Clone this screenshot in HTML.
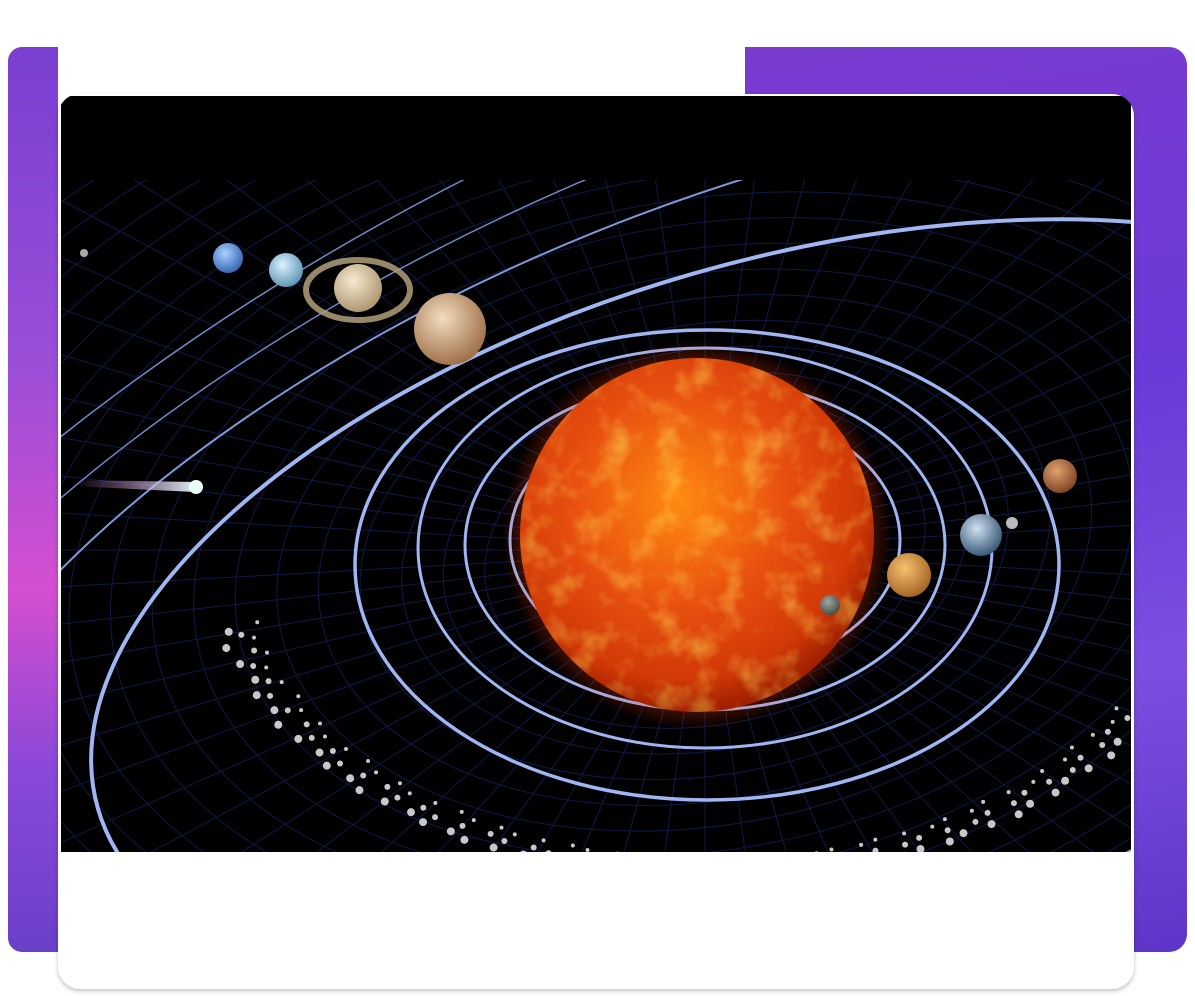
<!DOCTYPE html>
<html><head><meta charset="utf-8"><style>
html,body{margin:0;padding:0;background:#fff;overflow:hidden;width:1195px;height:996px;}
body{position:relative;font-family:"Liberation Sans",sans-serif;}
.purple{position:absolute;}
#left{left:8px;top:47px;width:50px;height:905px;border-radius:14px 0 0 14px;background:linear-gradient(180deg,#7a3fd0 0%,#9b4ed8 35%,#d44ed0 60%,#8a48d8 80%,#6a40c8 100%);}
#right{left:745px;top:47px;width:442px;height:905px;border-radius:0 18px 18px 0;background:linear-gradient(170deg,#7a3ad0 0%,#6a3ad8 40%,#7b4fe0 70%,#5e35c8 100%);}
#card{position:absolute;left:58px;top:94px;width:1076px;height:895px;background:#fff;border-radius:22px;box-shadow:0 2px 4px rgba(0,0,0,0.25);overflow:hidden;}
#scene{position:absolute;left:3px;top:2px;display:block;}
</style></head><body>
<div id="left" class="purple"></div>
<div id="right" class="purple"></div>
<div id="card">
<svg id="scene" width="1070" height="756" viewBox="61 96 1070 756">
<defs>
<radialGradient id="sun" cx="0.45" cy="0.4" r="0.6">
<stop offset="0" stop-color="#ff8a10"/><stop offset="0.5" stop-color="#e85010"/><stop offset="0.85" stop-color="#d03806"/><stop offset="1" stop-color="#a02000"/></radialGradient>
<radialGradient id="glow" cx="0.5" cy="0.5" r="0.5">
<stop offset="0.75" stop-color="#ff5a10" stop-opacity="0.6"/><stop offset="1" stop-color="#ff3000" stop-opacity="0"/></radialGradient>
<filter id="tex"><feTurbulence type="fractalNoise" baseFrequency="0.035" numOctaves="3" seed="4"/><feColorMatrix values="0 0 0 0 1  0 0 0 0 0.75  0 0 0 0 0.1  0 0 0 1.6 -0.75"/><feComposite in2="SourceGraphic" operator="in"/></filter>
<radialGradient id="jup" cx="0.4" cy="0.35" r="0.7"><stop offset="0" stop-color="#f2dcc0"/><stop offset="1" stop-color="#9a6a40"/></radialGradient>
<radialGradient id="sat" cx="0.4" cy="0.35" r="0.7"><stop offset="0" stop-color="#f6ead0"/><stop offset="1" stop-color="#a8926a"/></radialGradient>
<radialGradient id="ura" cx="0.4" cy="0.35" r="0.7"><stop offset="0" stop-color="#d8f2ff"/><stop offset="1" stop-color="#5a90b0"/></radialGradient>
<radialGradient id="nep" cx="0.4" cy="0.35" r="0.7"><stop offset="0" stop-color="#a8d0ff"/><stop offset="1" stop-color="#3060b0"/></radialGradient>
<radialGradient id="mars" cx="0.4" cy="0.35" r="0.7"><stop offset="0" stop-color="#e0a070"/><stop offset="1" stop-color="#7a4020"/></radialGradient>
<radialGradient id="earth" cx="0.4" cy="0.35" r="0.7"><stop offset="0" stop-color="#d0e0f0"/><stop offset="1" stop-color="#305070"/></radialGradient>
<radialGradient id="ven" cx="0.4" cy="0.35" r="0.7"><stop offset="0" stop-color="#f8c070"/><stop offset="1" stop-color="#a06020"/></radialGradient>
<radialGradient id="merc" cx="0.4" cy="0.35" r="0.7"><stop offset="0" stop-color="#a0a8a0"/><stop offset="1" stop-color="#404840"/></radialGradient>
<linearGradient id="comet" x1="0" x2="1"><stop offset="0" stop-color="#c060c0" stop-opacity="0"/><stop offset="1" stop-color="#e0f0f0"/></linearGradient>
</defs>
<rect x="61" y="96" width="1070" height="756" fill="#000"/>
<g id="grid" stroke="#15205a" stroke-width="1" fill="none" opacity="0.8"></g>
<g fill="none" stroke="#9fb6f2">
<ellipse cx="705" cy="540" rx="195" ry="135" stroke-width="3"/>
<ellipse cx="705" cy="545" rx="240" ry="165" stroke-width="3"/>
<ellipse cx="705" cy="548" rx="287" ry="200" stroke-width="3"/>
<ellipse cx="707" cy="565" rx="352" ry="235" stroke-width="3.5"/>
<ellipse cx="790" cy="610" rx="720" ry="350" transform="rotate(-16 790 610)" stroke-width="4"/>
<ellipse cx="760" cy="640" rx="930" ry="440" transform="rotate(-22 760 640)" stroke-width="2" stroke="#7f98d8"/>
<ellipse cx="760" cy="660" rx="1080" ry="510" transform="rotate(-24 760 660)" stroke-width="1.5" stroke="#6f88c8"/>
<ellipse cx="760" cy="680" rx="1230" ry="580" transform="rotate(-26 760 680)" stroke-width="1.5" stroke="#6f88c8"/>
</g>
<rect x="61" y="96" width="1070" height="84" fill="#000"/>
<g id="belt" fill="#c8c8c8"></g>
<circle cx="697" cy="535" r="195" fill="url(#glow)"/>
<circle cx="697" cy="535" r="177" fill="url(#sun)"/>
<circle cx="697" cy="535" r="177" fill="#fff" filter="url(#tex)" opacity="0.7"/>
<ellipse cx="358" cy="290" rx="52" ry="30" fill="none" stroke="#b0a078" stroke-width="6" opacity="0.85"/>
<circle cx="358" cy="288" r="24" fill="url(#sat)"/>
<circle cx="450" cy="329" r="36" fill="url(#jup)"/>
<circle cx="286" cy="270" r="17" fill="url(#ura)"/>
<circle cx="228" cy="258" r="15" fill="url(#nep)"/>
<circle cx="84" cy="253" r="4" fill="#aaa"/>
<circle cx="1060" cy="476" r="17" fill="url(#mars)"/>
<circle cx="981" cy="535" r="21" fill="url(#earth)"/>
<circle cx="1012" cy="523" r="6" fill="#bbb"/>
<circle cx="909" cy="575" r="22" fill="url(#ven)"/>
<circle cx="830" cy="605" r="10" fill="url(#merc)"/>
<polygon points="70,480 195,482 195,492 70,486" fill="url(#comet)"/>
<circle cx="196" cy="487" r="7" fill="#e8fff8"/>
</svg>
</div>
<script>
var ns="http://www.w3.org/2000/svg";
var g=document.getElementById('grid');
for(var i=1;i<26;i++){var e=document.createElementNS(ns,'ellipse');
e.setAttribute('cx',705);e.setAttribute('cy',550);e.setAttribute('rx',180+i*42);e.setAttribute('ry',125+i*25);
e.setAttribute('transform','rotate(-10 705 550)');g.appendChild(e);}
for(var a=0;a<72;a++){var t=a*Math.PI/36;var l=document.createElementNS(ns,'line');
l.setAttribute('x1',705+180*Math.cos(t));l.setAttribute('y1',550+125*Math.sin(t));
l.setAttribute('x2',705+1400*Math.cos(t));l.setAttribute('y2',550+900*Math.sin(t));g.appendChild(l);}
var b=document.getElementById('belt');
for(var k=0;k<160;k++){var t2=0.15+k*0.0175;var rr=(k%3)*14;
var x=705+(470+rr)*Math.cos(t2)*1.0, y=560+(300+rr*0.7)*Math.sin(t2);
if(t2>Math.PI*0.95) continue;
var c=document.createElementNS(ns,'circle');c.setAttribute('cx',x+ (k%5)*3);c.setAttribute('cy',y);c.setAttribute('r',2+(k%3));b.appendChild(c);}
</script>
</body></html>
